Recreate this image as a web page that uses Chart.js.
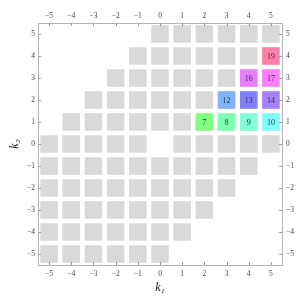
<!DOCTYPE html>
<html>
<head>
<meta charset="utf-8">
<script src="https://cdn.jsdelivr.net/npm/chart.js@4/dist/chart.umd.min.js"></script>
<style>
  html, body { margin: 0; padding: 0; background: #fff; }
  #wrap { width: 305px; height: 301px; }
</style>
</head>
<body>
<div id="wrap"><canvas id="chart"></canvas></div>
<script>
// tick values on both axes
const kTicks = [-5, -4, -3, -2, -1, 0, 1, 2, 3, 4, 5];

// grey lattice: for each k2 row, the first and last k1 that is filled
const rowK2 = [5, 4, 3, 2, 1, 0, -1, -2, -3, -4, -5];
const rowFrom = [0, -1, -2, -3, -4, -5, -5, -5, -5, -5, -5];
const rowTo = [5, 5, 5, 5, 5, 5, 4, 3, 2, 1, 0];
// empty cell in the middle
const holeK1 = [0];
const holeK2 = [0];

// numbered, coloured cells
const markK1 = [2, 3, 4, 5, 3, 4, 5, 4, 5, 5];
const markK2 = [1, 1, 1, 1, 2, 2, 2, 3, 3, 4];
const markLabels = ['7', '8', '9', '10', '12', '13', '14', '16', '17', '19'];
const markColors = ['#80ff80', '#80ffb3', '#80ffd9', '#80ffff', '#80b3ff',
                    '#8080ff', '#a680ff', '#e680ff', '#ff80ff', '#ff80a6'];

const greyCells = [];
rowK2.forEach((k2, i) => {
  for (let k1 = rowFrom[i]; k1 <= rowTo[i]; k1++) {
    const isHole = holeK1.some((h, j) => h === k1 && holeK2[j] === k2);
    if (!isHole) greyCells.push({ x: k1, y: k2 });
  }
});
const markCells = markK1.map((k1, i) => ({ x: k1, y: markK2[i] }));

// cell side taken from the scale spacing
function cellRadius(ctx) {
  const sx = ctx.chart.scales.x;
  if (!sx) return 10;
  const step = Math.abs(sx.getPixelForValue(1) - sx.getPixelForValue(0));
  return step * 0.79 / Math.SQRT2;
}

const minus = v => (v < 0 ? '\u2212' + Math.abs(v) : String(v));
const tickFont = { family: 'Liberation Serif, DejaVu Serif, serif', size: 7.5 };
const setTicks = s => { s.ticks = kTicks.map(v => ({ value: v })); };

// inward tick marks and cell labels
const decorations = {
  id: 'decorations',
  afterDatasetsDraw(chart) {
    const { ctx, chartArea: a, scales } = chart;
    ctx.save();
    ctx.strokeStyle = '#a0a0a0';
    ctx.lineWidth = 1;
    ctx.beginPath();
    kTicks.forEach(v => {
      const px = Math.round(scales.x.getPixelForValue(v)) + 0.5;
      const py = Math.round(scales.y.getPixelForValue(v)) + 0.5;
      ctx.moveTo(px, a.bottom); ctx.lineTo(px, a.bottom - 3);
      ctx.moveTo(px, a.top); ctx.lineTo(px, a.top + 3);
      ctx.moveTo(a.left, py); ctx.lineTo(a.left + 3, py);
      ctx.moveTo(a.right, py); ctx.lineTo(a.right - 3, py);
    });
    ctx.stroke();

    ctx.fillStyle = '#333';
    ctx.font = '8px Liberation Serif, DejaVu Serif, serif';
    ctx.textAlign = 'center';
    ctx.textBaseline = 'middle';
    markCells.forEach((c, i) => {
      ctx.fillText(markLabels[i],
        scales.x.getPixelForValue(c.x),
        scales.y.getPixelForValue(c.y) + 0.5);
    });
    ctx.restore();
  }
};

const borderCol = '#b4b4b4';

new Chart(document.getElementById('chart'), {
  type: 'scatter',
  data: {
    datasets: [
      {
        data: markCells,
        pointStyle: 'rect',
        pointRadius: cellRadius,
        backgroundColor: markColors,
        borderWidth: 0
      },
      {
        data: greyCells,
        pointStyle: 'rect',
        pointRadius: cellRadius,
        backgroundColor: '#d9d9d9',
        borderWidth: 0
      }
    ]
  },
  options: {
    responsive: true,
    maintainAspectRatio: false,
    animation: false,
    events: [],
    layout: { padding: 0 },
    plugins: { legend: { display: false }, tooltip: { enabled: false } },
    scales: {
      x: {
        type: 'linear', position: 'bottom', min: -5.5, max: 5.5,
        afterBuildTicks: setTicks,
        afterFit: s => { s.height = 36; },
        grid: { display: false, drawTicks: false },
        border: { display: true, color: borderCol },
        ticks: { font: tickFont, color: '#444', padding: 5, callback: minus, maxRotation: 0 },
        title: {
          display: true, text: 'k\u2081', color: '#222',
          font: { family: 'Liberation Serif, DejaVu Serif, serif', size: 12, style: 'italic' },
          padding: { top: 0, bottom: 6 }
        }
      },
      x2: {
        type: 'linear', position: 'top', min: -5.5, max: 5.5,
        afterBuildTicks: setTicks,
        afterFit: s => { s.height = 23; },
        grid: { display: false, drawTicks: false },
        border: { display: true, color: borderCol },
        ticks: { font: tickFont, color: '#444', padding: 2, callback: minus, maxRotation: 0 }
      },
      y: {
        type: 'linear', position: 'left', min: -5.5, max: 5.5,
        afterBuildTicks: setTicks,
        afterFit: s => { s.width = 38; },
        grid: { display: false, drawTicks: false },
        border: { display: true, color: borderCol },
        ticks: { font: tickFont, color: '#444', padding: 3, callback: minus },
        title: {
          display: true, text: 'k\u2082', color: '#222',
          font: { family: 'Liberation Serif, DejaVu Serif, serif', size: 12, style: 'italic' },
          padding: { top: 8, bottom: 0 }
        }
      },
      y2: {
        type: 'linear', position: 'right', min: -5.5, max: 5.5,
        afterBuildTicks: setTicks,
        afterFit: s => { s.width = 23; },
        grid: { display: false, drawTicks: false },
        border: { display: true, color: borderCol },
        ticks: { font: tickFont, color: '#444', padding: 4, callback: minus }
      }
    }
  },
  plugins: [decorations]
});
</script>
</body>
</html>
